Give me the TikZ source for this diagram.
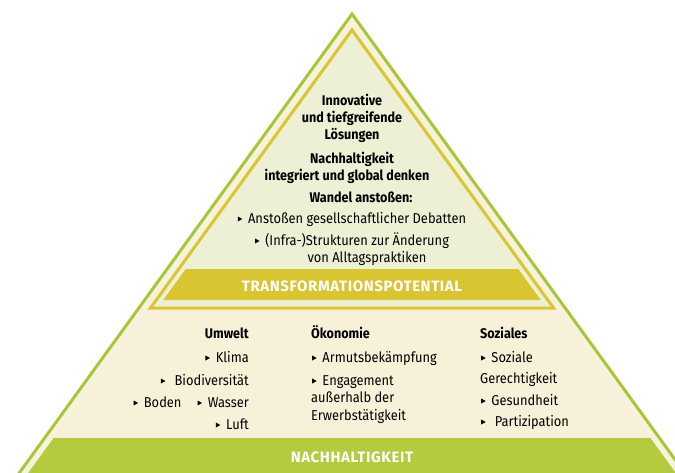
\documentclass[tikz,border=0pt]{standalone}
\usepackage{fontspec}
\setmainfont{Fira Sans}[FakeStretch=0.9]
\newfontfamily\bandfont{Fira Sans}[LetterSpace=4]
\definecolor{gline}{HTML}{A9C63B}
\definecolor{gband}{HTML}{B3CB3E}
\definecolor{yline}{HTML}{DAC534}
\definecolor{yband}{HTML}{D9C431}
\definecolor{creamout}{HTML}{F6F2DC}
\definecolor{creamtop}{HTML}{EEF0D6}
\definecolor{creamlow}{HTML}{F7F1D9}
\newcommand{\bul}{\tikz[baseline=0pt]\fill (0pt,1.5pt)--(0pt,6.5pt)--(4.5pt,4pt)--cycle;\ \,}
\tikzset{
  txt/.style={font=\fontsize{14.3}{16}\selectfont, inner sep=0pt, text=black},
  hd/.style={txt, font=\fontsize{14}{16}\selectfont\bfseries},
  bandtxt/.style={font=\bandfont\fontsize{15}{17}\selectfont\bfseries, text=white, inner sep=0pt}
}
\begin{document}
\begin{tikzpicture}[x=1pt,y=-1pt]
\useasboundingbox (0,0) rectangle (675,472);
\begin{scope}
\clip (0,0) rectangle (675,472);
% outer triangle
\fill[creamout] (352,14) -- (352-0.725*470,484) -- (352+0.725*470,484) -- cycle;
% lower cream area
\fill[creamlow] (352-0.725*280+7,294) -- (352+0.725*280-7,294) -- (352+0.725*470-9,484) -- (352-0.725*470+9,484) -- cycle;
% green band
\fill[gband] (352-0.725*424+9,438) -- (352+0.725*424-9,438) -- (352+0.725*470-9,484) -- (352-0.725*470+9,484) -- cycle;
% yellow triangle
\filldraw[fill=creamtop, draw=yline, line width=3pt, line join=miter] (352,30) -- (352-0.725*278,308) -- (352+0.725*278,308) -- cycle;
% transformation band
\fill[yband] (352-0.725*239+7,269) -- (352+0.725*239-7,269) -- (352+0.725*270-7,300) -- (352-0.725*270+7,300) -- cycle;
% outer green outline
\draw[gline, line width=3pt, line join=miter] (352-0.725*470,484) -- (352,14) -- (352+0.725*470,484);
\end{scope}

\node[bandtxt, anchor=base] (tp) at (352,291) {TRANSFORMATIONSPOTENTIAL};
\node[bandtxt, anchor=base] (nh) at (352,462) {NACHHALTIGKEIT};

\node[hd, anchor=base] (t1) at (352,105) {Innovative};
\node[hd, anchor=base] (t2) at (352,122) {und tiefgreifende};
\node[hd, anchor=base] (t3) at (352,139) {Lösungen};
\node[hd, anchor=base] (t4) at (352,163) {Nachhaltigkeit};
\node[hd, anchor=base] (t5) at (347,180) {integriert und global denken};
\node[hd, anchor=base] (t6) at (361,202) {Wandel anstoßen:};
\node[txt, anchor=base] (t7) at (352,223) {\bul Anstoßen gesellschaftlicher Debatten};
\node[txt, anchor=base] (t8) at (352,245) {\bul (Infra-)Strukturen zur Änderung};
\node[txt, anchor=base] (t9) at (367,262) {von Alltagspraktiken};

\node[hd, anchor=base east] (u0) at (249,338) {Umwelt};
\node[txt, anchor=base east] (u1) at (249,362) {\bul Klima};
\node[txt, anchor=base east] (u2) at (249,385) {\bul\ Biodiversität};
\node[txt, anchor=base east] (u3) at (249,407) {\bul Boden\hspace{16pt}\bul Wasser};
\node[txt, anchor=base east] (u4) at (249,429) {\bul Luft};

\node[hd, anchor=base west] (o0) at (311,338) {Ökonomie};
\node[txt, anchor=base west] (o1) at (312,362) {\bul Armutsbekämpfung};
\node[txt, anchor=base west] (o2) at (312,385) {\bul Engagement};
\node[txt, anchor=base west] (o3) at (311,402) {außerhalb der};
\node[txt, anchor=base west] (o4) at (311,420) {Erwerbstätigkeit};

\node[hd, anchor=base west] (s0) at (480,338) {Soziales};
\node[txt, anchor=base west] (s1) at (481,362) {\bul Soziale};
\node[txt, anchor=base west] (s2) at (480,383) {Gerechtigkeit};
\node[txt, anchor=base west] (s3) at (481,405) {\bul Gesundheit};
\node[txt, anchor=base west] (s4) at (481,426) {\bul\ Partizipation};
\end{tikzpicture}
\end{document}
